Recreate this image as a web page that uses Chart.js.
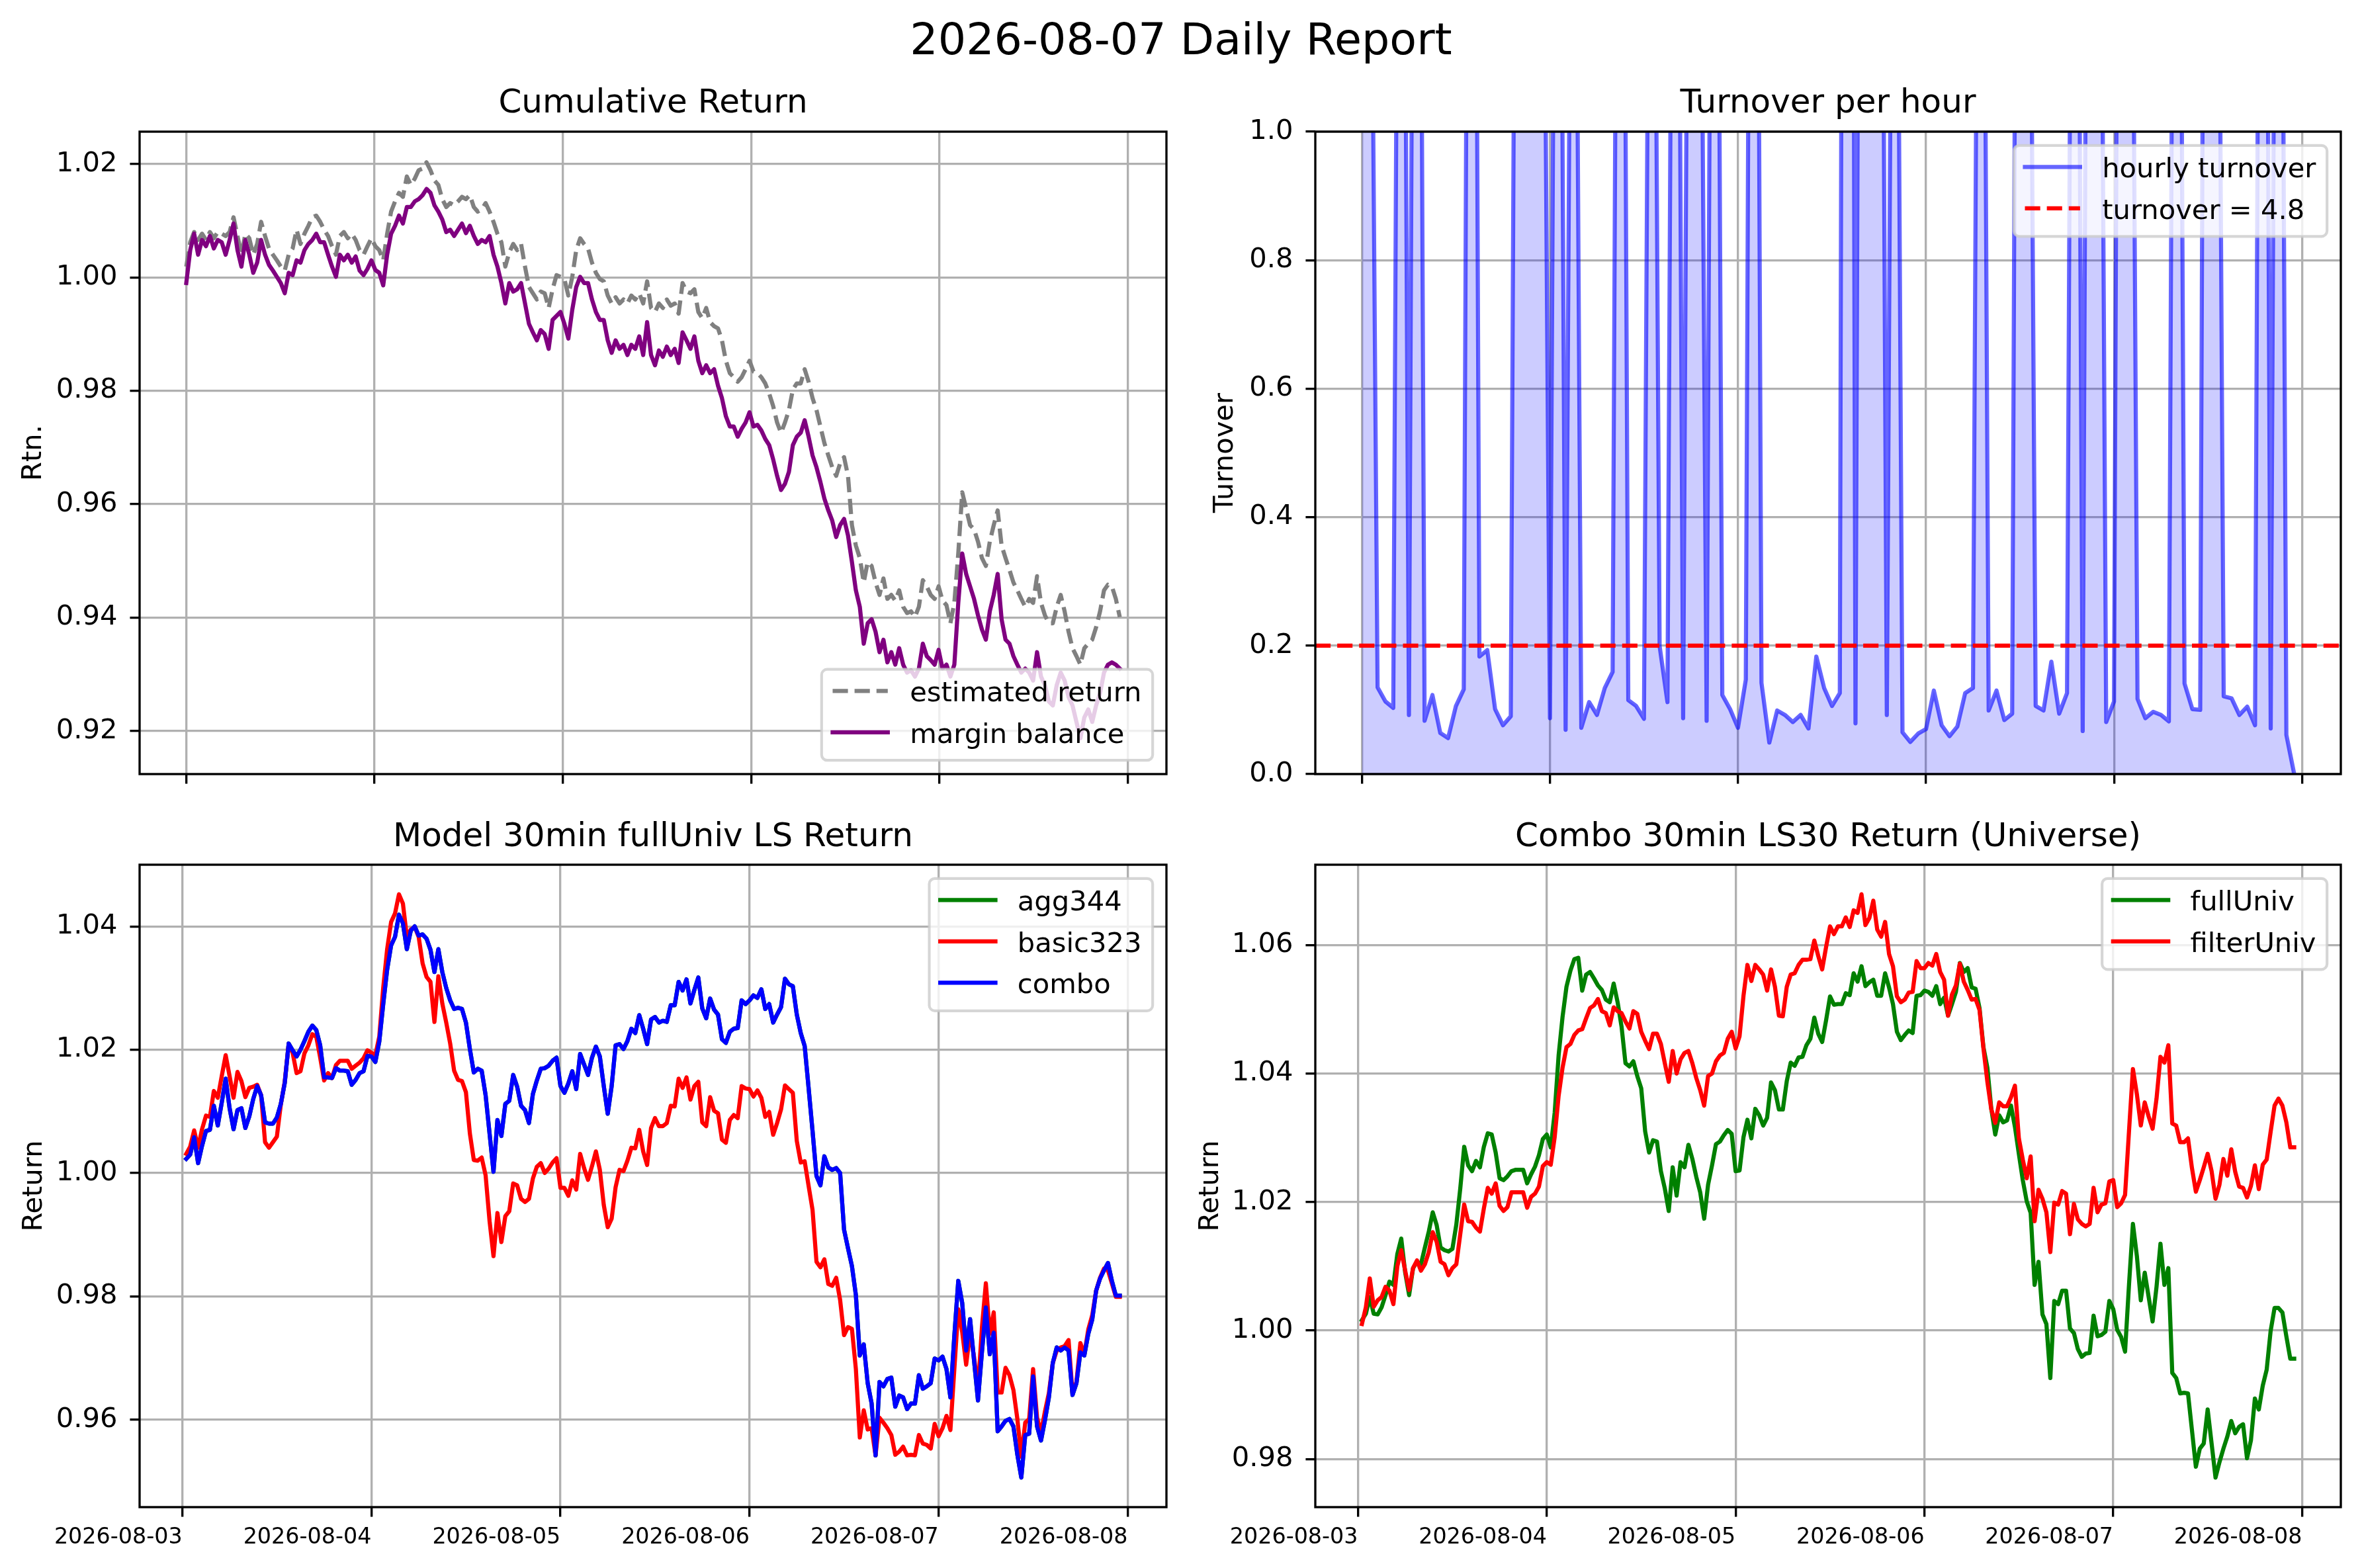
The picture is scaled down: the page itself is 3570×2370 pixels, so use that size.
<!DOCTYPE html>
<html>
<head>
<meta charset="utf-8">
<script src="https://cdn.jsdelivr.net/npm/chart.js@4.4.0/dist/chart.umd.min.js"></script>
<style>
html,body{margin:0;padding:0;background:#fff;}
body{width:3570px;height:2370px;position:relative;overflow:hidden;}
canvas{position:absolute;}
#suptitle{position:absolute;left:0;top:26px;width:3570px;text-align:center;font-family:"DejaVu Sans";font-size:66.67px;line-height:1;color:#000;white-space:nowrap;}
</style>
</head>
<body>
<div id="suptitle">2026-08-07 Daily Report</div>
<canvas id="cTL" width="1785" height="1130" style="left:0px;top:100px;width:1785px;height:1130px"></canvas>
<canvas id="cTR" width="1785" height="1130" style="left:1785px;top:100px;width:1785px;height:1130px"></canvas>
<canvas id="cBL" width="1785" height="1160" style="left:0px;top:1210px;width:1785px;height:1160px"></canvas>
<canvas id="cBR" width="1785" height="1160" style="left:1785px;top:1210px;width:1785px;height:1160px"></canvas>
<script>
// ---------------- DATA ----------------
const DATE_LABELS = ['2026-08-03','2026-08-04','2026-08-05','2026-08-06','2026-08-07','2026-08-08'];
const DAY_TICKS = [0, 1, 2, 3, 4, 5];           // days after 2026-08-03 00:00

// Cumulative Return (30-min samples, 08-03 00:00 .. 08-07 23:00)
const estimatedReturn = [
1.0019,1.0062,1.0080,1.0066,1.0077,1.0066,1.0080,1.0069,1.0080,1.0077,
1.0073,1.0080,1.0106,1.0073,1.0040,1.0077,1.0069,1.0040,1.0059,1.0098,
1.0073,1.0051,1.0040,1.0030,1.0019,1.0012,1.0040,1.0051,1.0084,1.0059,
1.0077,1.0091,1.0106,1.0109,1.0098,1.0084,1.0073,1.0055,1.0040,1.0073,
1.0080,1.0069,1.0077,1.0066,1.0048,1.0040,1.0055,1.0069,1.0055,1.0048,
1.0030,1.0077,1.0116,1.0134,1.0149,1.0142,1.0178,1.0163,1.0174,1.0189,
1.0192,1.0203,1.0189,1.0171,1.0163,1.0138,1.0124,1.0131,1.0127,1.0134,
1.0142,1.0138,1.0145,1.0124,1.0116,1.0120,1.0131,1.0116,1.0098,1.0077,
1.0062,1.0019,1.0044,1.0059,1.0048,1.0059,1.0019,0.9983,0.9972,0.9961,
0.9975,0.9972,0.9946,0.9979,1.0004,1.0001,0.9997,0.9968,1.0001,1.0048,
1.0069,1.0059,1.0051,1.0026,1.0008,0.9997,0.9993,0.9968,0.9954,0.9965,
0.9954,0.9961,0.9954,0.9968,0.9961,0.9972,0.9954,0.9993,0.9946,0.9939,
0.9954,0.9946,0.9961,0.9950,0.9954,0.9936,0.9990,0.9975,0.9972,0.9979,
0.9939,0.9928,0.9946,0.9921,0.9914,0.9910,0.9889,0.9853,0.9831,0.9824,
0.9816,0.9824,0.9838,0.9853,0.9834,0.9831,0.9824,0.9813,0.9795,0.9773,
0.9744,0.9726,0.9744,0.9766,0.9802,0.9813,0.9813,0.9838,0.9816,0.9787,
0.9766,0.9737,0.9708,0.9686,0.9665,0.9650,0.9672,0.9683,0.9650,0.9563,
0.9527,0.9505,0.9462,0.9498,0.9491,0.9462,0.9440,0.9469,0.9433,0.9440,
0.9430,0.9448,0.9419,0.9408,0.9411,0.9401,0.9419,0.9466,0.9455,0.9440,
0.9433,0.9455,0.9430,0.9422,0.9390,0.9426,0.9513,0.9621,0.9592,0.9563,
0.9556,0.9534,0.9505,0.9491,0.9534,0.9563,0.9589,0.9527,0.9505,0.9484,
0.9462,0.9448,0.9433,0.9419,0.9433,0.9426,0.9473,0.9426,0.9404,0.9390,
0.9390,0.9419,0.9440,0.9411,0.9375,0.9346,0.9332,0.9317,0.9346,0.9354,
0.9361,0.9383,0.9411,0.9448,0.9458,0.9455,0.9433,0.9401];
const marginBalance = [
0.9990,1.0048,1.0077,1.0040,1.0066,1.0055,1.0073,1.0051,1.0066,1.0062,
1.0040,1.0066,1.0095,1.0048,1.0019,1.0066,1.0040,1.0008,1.0026,1.0066,
1.0040,1.0022,1.0012,1.0001,0.9990,0.9972,1.0008,1.0004,1.0030,1.0026,
1.0048,1.0059,1.0066,1.0077,1.0062,1.0062,1.0040,1.0019,1.0001,1.0040,
1.0030,1.0040,1.0026,1.0037,1.0012,1.0004,1.0015,1.0030,1.0013,1.0008,
0.9986,1.0040,1.0077,1.0091,1.0109,1.0095,1.0124,1.0124,1.0134,1.0138,
1.0145,1.0156,1.0149,1.0127,1.0116,1.0102,1.0080,1.0084,1.0073,1.0084,
1.0095,1.0078,1.0091,1.0073,1.0059,1.0066,1.0062,1.0073,1.0040,1.0019,
0.9990,0.9954,0.9990,0.9975,0.9979,0.9990,0.9954,0.9918,0.9903,0.9889,
0.9907,0.9900,0.9874,0.9925,0.9932,0.9939,0.9918,0.9892,0.9943,0.9983,
1.0001,0.9990,0.9990,0.9961,0.9939,0.9925,0.9925,0.9889,0.9867,0.9889,
0.9874,0.9881,0.9863,0.9881,0.9874,0.9896,0.9863,0.9921,0.9863,0.9845,
0.9871,0.9860,0.9878,0.9863,0.9874,0.9849,0.9903,0.9889,0.9874,0.9896,
0.9853,0.9831,0.9845,0.9831,0.9838,0.9809,0.9787,0.9755,0.9737,0.9737,
0.9719,0.9733,0.9744,0.9762,0.9737,0.9740,0.9730,0.9715,0.9704,0.9679,
0.9650,0.9625,0.9636,0.9657,0.9704,0.9719,0.9726,0.9748,0.9719,0.9686,
0.9665,0.9639,0.9610,0.9589,0.9571,0.9542,0.9563,0.9574,0.9545,0.9498,
0.9448,0.9419,0.9354,0.9390,0.9397,0.9375,0.9339,0.9361,0.9321,0.9339,
0.9317,0.9346,0.9317,0.9303,0.9307,0.9296,0.9310,0.9354,0.9332,0.9325,
0.9317,0.9343,0.9310,0.9317,0.9296,0.9317,0.9426,0.9513,0.9477,0.9455,
0.9433,0.9404,0.9379,0.9361,0.9411,0.9440,0.9477,0.9397,0.9361,0.9354,
0.9332,0.9317,0.9303,0.9310,0.9303,0.9289,0.9339,0.9296,0.9281,0.9252,
0.9245,0.9281,0.9303,0.9289,0.9260,0.9245,0.9216,0.9187,0.9224,0.9238,
0.9216,0.9245,0.9267,0.9303,0.9317,0.9321,0.9317,0.9310];

// Turnover per hour (08-03 00:00 .. 08-07 23:00)
const hourlyTurnover = [
2.2,1.7,0.135,0.113,0.103,2.5,0.092,2.8,0.083,0.123,
0.064,0.056,0.106,0.132,3.0,0.183,0.193,0.101,0.076,0.09,
2.6,1.9,2.3,1.8,0.087,2.4,0.069,2.1,0.072,0.112,
0.092,0.134,0.159,2.7,0.115,0.106,0.086,2.2,0.199,0.112,
2.5,0.087,2.3,1.9,0.083,2.6,0.123,0.101,0.072,0.147,
3.0,0.142,0.049,0.099,0.092,0.081,0.092,0.071,0.183,0.134,
0.106,0.126,5.0,0.079,3.5,4.0,2.5,0.092,2.2,0.065,
0.05,0.063,0.07,0.13,0.076,0.059,0.074,0.126,0.134,2.4,
0.099,0.13,0.084,0.094,3.0,2.0,0.106,0.099,0.175,0.094,
0.126,2.6,0.067,2.8,2.2,0.081,0.113,3.0,2.1,0.117,
0.087,0.097,0.092,0.082,2.7,0.141,0.101,0.1,3.2,2.2,
0.121,0.118,0.092,0.105,0.076,2.9,0.071,2.6,0.061,0.0];
const TURNOVER_THRESHOLD = 0.2;       // per hour
const TURNOVER_DAILY = 4.8;

// Model 30min fullUniv LS Return (30-min bars 08-03 00:30 .. 08-07 23:00)
const combo = [
1.0023,1.0030,1.0058,1.0016,1.0044,1.0068,1.0070,1.0109,1.0077,1.0114,
1.0153,1.0105,1.0071,1.0102,1.0105,1.0073,1.0092,1.0120,1.0141,1.0126,
1.0082,1.0080,1.0080,1.0090,1.0112,1.0146,1.0210,1.0199,1.0189,1.0200,
1.0214,1.0229,1.0239,1.0232,1.0207,1.0155,1.0155,1.0154,1.0170,1.0166,
1.0166,1.0165,1.0143,1.0151,1.0162,1.0165,1.0190,1.0189,1.0180,1.0213,
1.0274,1.0330,1.0369,1.0383,1.0419,1.0405,1.0363,1.0393,1.0400,1.0385,
1.0387,1.0380,1.0362,1.0326,1.0363,1.0326,1.0300,1.0280,1.0266,1.0268,
1.0266,1.0244,1.0201,1.0163,1.0169,1.0166,1.0126,1.0064,1.0002,1.0086,
1.0060,1.0112,1.0117,1.0159,1.0140,1.0109,1.0102,1.0081,1.0128,1.0150,
1.0169,1.0170,1.0174,1.0182,1.0187,1.0141,1.0130,1.0145,1.0165,1.0136,
1.0193,1.0176,1.0159,1.0187,1.0205,1.0189,1.0141,1.0096,1.0141,1.0207,
1.0209,1.0201,1.0214,1.0234,1.0227,1.0256,1.0234,1.0209,1.0249,1.0253,
1.0244,1.0247,1.0245,1.0272,1.0272,1.0310,1.0296,1.0314,1.0275,1.0297,
1.0317,1.0267,1.0251,1.0283,1.0265,1.0257,1.0217,1.0211,1.0229,1.0234,
1.0235,1.0280,1.0274,1.0280,1.0288,1.0284,1.0298,1.0266,1.0274,1.0244,
1.0257,1.0269,1.0315,1.0306,1.0303,1.0257,1.0227,1.0206,1.0138,1.0068,
0.9995,0.9980,1.0027,1.0009,1.0005,1.0008,1.0000,0.9908,0.9878,0.9849,
0.9802,0.9704,0.9722,0.9659,0.9626,0.9542,0.9661,0.9654,0.9666,0.9668,
0.9621,0.9639,0.9636,0.9617,0.9626,0.9626,0.9672,0.9650,0.9654,0.9659,
0.9699,0.9696,0.9702,0.9682,0.9636,0.9736,0.9825,0.9789,0.9712,0.9763,
0.9696,0.9631,0.9709,0.9782,0.9706,0.9741,0.9581,0.9589,0.9598,0.9601,
0.9589,0.9543,0.9506,0.9575,0.9577,0.9670,0.9589,0.9566,0.9599,0.9636,
0.9692,0.9717,0.9712,0.9717,0.9712,0.9640,0.9659,0.9709,0.9704,0.9739,
0.9762,0.9809,0.9829,0.9842,0.9854,0.9825,0.9801,0.9801];
const basic323 = [
1.0031,1.0043,1.0069,1.0041,1.0071,1.0093,1.0091,1.0133,1.0122,1.0157,
1.0191,1.0157,1.0122,1.0164,1.0149,1.0123,1.0138,1.0140,1.0143,1.0126,
1.0050,1.0041,1.0050,1.0059,1.0111,1.0148,1.0209,1.0195,1.0162,1.0165,
1.0194,1.0207,1.0225,1.0221,1.0187,1.0150,1.0162,1.0154,1.0175,1.0182,
1.0182,1.0182,1.0169,1.0174,1.0179,1.0186,1.0199,1.0195,1.0191,1.0221,
1.0300,1.0363,1.0407,1.0421,1.0452,1.0437,1.0383,1.0395,1.0399,1.0383,
1.0340,1.0318,1.0310,1.0245,1.0319,1.0275,1.0244,1.0210,1.0166,1.0151,
1.0149,1.0131,1.0064,1.0021,1.0020,1.0025,0.9996,0.9922,0.9865,0.9935,
0.9888,0.9930,0.9938,0.9983,0.9980,0.9958,0.9953,0.9958,0.9991,1.0010,
1.0016,1.0000,1.0007,1.0017,1.0024,0.9976,0.9976,0.9963,0.9988,0.9973,
1.0031,1.0008,0.9989,1.0011,1.0035,1.0005,0.9948,0.9912,0.9926,0.9977,
1.0005,1.0003,1.0020,1.0041,1.0040,1.0070,1.0035,1.0013,1.0073,1.0089,
1.0076,1.0076,1.0081,1.0109,1.0108,1.0153,1.0138,1.0155,1.0119,1.0141,
1.0148,1.0082,1.0076,1.0123,1.0101,1.0097,1.0054,1.0049,1.0086,1.0094,
1.0089,1.0141,1.0137,1.0136,1.0124,1.0134,1.0122,1.0091,1.0099,1.0062,
1.0081,1.0103,1.0142,1.0136,1.0130,1.0052,1.0017,1.0019,0.9979,0.9940,
0.9856,0.9847,0.9860,0.9820,0.9817,0.9830,0.9794,0.9737,0.9750,0.9747,
0.9682,0.9571,0.9615,0.9584,0.9586,0.9542,0.9603,0.9595,0.9586,0.9575,
0.9543,0.9548,0.9556,0.9542,0.9543,0.9542,0.9575,0.9561,0.9559,0.9553,
0.9593,0.9573,0.9586,0.9606,0.9583,0.9682,0.9779,0.9742,0.9689,0.9742,
0.9702,0.9649,0.9749,0.9821,0.9739,0.9774,0.9644,0.9644,0.9684,0.9672,
0.9648,0.9601,0.9540,0.9595,0.9601,0.9682,0.9603,0.9579,0.9613,0.9643,
0.9692,0.9712,0.9717,0.9719,0.9729,0.9643,0.9661,0.9724,0.9706,0.9746,
0.9769,0.9809,0.9830,0.9845,0.9842,0.9821,0.9799,0.9799];
const agg344 = [...combo];   // in the reference the green agg344 line lies entirely under combo

// Combo 30min LS30 Return (Universe)
const fullUniv = [
1.0016,1.0026,1.0052,1.0026,1.0025,1.0036,1.0055,1.0076,1.0071,1.0119,
1.0143,1.0090,1.0055,1.0097,1.0107,1.0103,1.0129,1.0154,1.0184,1.0164,
1.0129,1.0125,1.0123,1.0127,1.0165,1.0221,1.0286,1.0257,1.0248,1.0264,
1.0254,1.0286,1.0307,1.0305,1.0277,1.0237,1.0234,1.0240,1.0248,1.0250,
1.0250,1.0250,1.0229,1.0243,1.0255,1.0273,1.0298,1.0305,1.0285,1.0339,
1.0428,1.0488,1.0535,1.0560,1.0578,1.0580,1.0529,1.0554,1.0558,1.0548,
1.0537,1.0530,1.0515,1.0511,1.0540,1.0511,1.0473,1.0416,1.0411,1.0419,
1.0396,1.0377,1.0310,1.0277,1.0296,1.0294,1.0248,1.0221,1.0186,1.0254,
1.0210,1.0262,1.0254,1.0289,1.0267,1.0239,1.0215,1.0174,1.0227,1.0257,
1.0290,1.0294,1.0304,1.0312,1.0306,1.0248,1.0249,1.0301,1.0328,1.0299,
1.0345,1.0335,1.0319,1.0331,1.0386,1.0374,1.0344,1.0344,1.0388,1.0417,
1.0412,1.0425,1.0426,1.0444,1.0454,1.0487,1.0462,1.0449,1.0483,1.0520,
1.0507,1.0508,1.0508,1.0525,1.0522,1.0556,1.0543,1.0567,1.0536,1.0542,
1.0546,1.0521,1.0521,1.0556,1.0534,1.0508,1.0465,1.0452,1.0460,1.0467,
1.0463,1.0521,1.0522,1.0529,1.0527,1.0521,1.0536,1.0508,1.0518,1.0490,
1.0508,1.0527,1.0572,1.0558,1.0564,1.0534,1.0532,1.0502,1.0441,1.0409,
1.0345,1.0305,1.0335,1.0324,1.0327,1.0350,1.0317,1.0275,1.0234,1.0201,
1.0183,1.0071,1.0107,1.0025,1.0010,0.9926,1.0046,1.0041,1.0062,1.0062,
1.0003,0.9996,0.9971,0.9959,0.9964,0.9965,1.0023,0.9991,0.9993,0.9998,
1.0046,1.0033,1.0001,0.9990,0.9967,1.0071,1.0166,1.0116,1.0047,1.0090,
1.0052,1.0014,1.0068,1.0135,1.0071,1.0097,0.9934,0.9926,0.9902,0.9903,
0.9902,0.9845,0.9788,0.9816,0.9824,0.9877,0.9824,0.9771,0.9795,0.9816,
0.9835,0.9859,0.9840,0.9850,0.9854,0.9801,0.9829,0.9894,0.9877,0.9914,
0.9939,0.9999,1.0035,1.0035,1.0028,0.9991,0.9956,0.9956];
const filterUniv = [
1.0010,1.0036,1.0081,1.0037,1.0047,1.0052,1.0068,1.0062,1.0041,1.0100,
1.0125,1.0093,1.0063,1.0097,1.0109,1.0093,1.0103,1.0122,1.0153,1.0138,
1.0107,1.0103,1.0086,1.0097,1.0103,1.0150,1.0196,1.0170,1.0169,1.0160,
1.0154,1.0190,1.0222,1.0213,1.0229,1.0194,1.0186,1.0192,1.0215,1.0215,
1.0215,1.0215,1.0191,1.0208,1.0213,1.0224,1.0256,1.0262,1.0258,1.0301,
1.0365,1.0409,1.0441,1.0446,1.0460,1.0467,1.0469,1.0486,1.0502,1.0506,
1.0516,1.0497,1.0494,1.0475,1.0503,1.0497,1.0494,1.0481,1.0470,1.0497,
1.0493,1.0465,1.0451,1.0438,1.0462,1.0462,1.0446,1.0416,1.0387,1.0435,
1.0400,1.0422,1.0432,1.0435,1.0416,1.0393,1.0374,1.0350,1.0396,1.0400,
1.0419,1.0428,1.0432,1.0454,1.0465,1.0439,1.0458,1.0521,1.0569,1.0544,
1.0569,1.0562,1.0554,1.0529,1.0562,1.0535,1.0490,1.0489,1.0535,1.0554,
1.0556,1.0569,1.0577,1.0577,1.0578,1.0607,1.0583,1.0562,1.0597,1.0629,
1.0617,1.0629,1.0629,1.0643,1.0628,1.0654,1.0650,1.0679,1.0631,1.0642,
1.0669,1.0624,1.0613,1.0636,1.0586,1.0567,1.0520,1.0511,1.0515,1.0526,
1.0527,1.0575,1.0564,1.0564,1.0572,1.0568,1.0586,1.0558,1.0546,1.0490,
1.0523,1.0537,1.0571,1.0543,1.0530,1.0515,1.0516,1.0499,1.0439,1.0387,
1.0344,1.0323,1.0355,1.0349,1.0349,1.0363,1.0381,1.0299,1.0266,1.0237,
1.0271,1.0170,1.0219,1.0205,1.0184,1.0122,1.0199,1.0196,1.0217,1.0213,
1.0150,1.0197,1.0173,1.0166,1.0162,1.0166,1.0222,1.0184,1.0196,1.0198,
1.0232,1.0234,1.0192,1.0198,1.0211,1.0310,1.0407,1.0368,1.0319,1.0355,
1.0333,1.0314,1.0361,1.0426,1.0417,1.0444,1.0322,1.0319,1.0293,1.0293,
1.0299,1.0253,1.0216,1.0234,1.0254,1.0275,1.0248,1.0205,1.0227,1.0267,
1.0241,1.0282,1.0247,1.0224,1.0222,1.0207,1.0225,1.0257,1.0220,1.0258,
1.0266,1.0309,1.0350,1.0361,1.0350,1.0324,1.0285,1.0285];

const Y_TICKS_CUM = [0.92, 0.94, 0.96, 0.98, 1.00, 1.02];
const Y_TICKS_TURN = [0, 0.2, 0.4, 0.6, 0.8, 1.0];
const Y_TICKS_MODEL = [0.96, 0.98, 1.00, 1.02, 1.04];
const Y_TICKS_UNIV = [0.98, 1.00, 1.02, 1.04, 1.06];

// ---------------- time axes (days after 08-03 00:00) ----------------
const END_DAY = 4 + 23 / 24;                               // 08-07 23:00
const cumTimes = estimatedReturn.map((_, k) => k * END_DAY / (estimatedReturn.length - 1));
const hourTimes = hourlyTurnover.map((_, h) => h / 24);
const barTimes = combo.map((_, i) => (i + 1) / 48);        // 30-min bar close times
function autoLim(ts) { const a = ts[0], b = ts[ts.length - 1], m = 0.05 * (b - a); return [a - m, b + m]; }
const X_LIM_TOP = autoLim(cumTimes);
const X_LIM_BOT = autoLim(barTimes);

// ---------------- styling (matplotlib @300dpi) ----------------
const FONT = '"DejaVu Sans"';
const PT = 300 / 72;
const FS = 10 * PT, FS_X = 8 * PT, FS_TITLE = 12 * PT;
const LW = 1.5 * PT, LW_THIN = 0.8 * PT, TICK_LEN = 3.5 * PT;
const DASH = [3.7 * LW, 1.6 * LW];
const GRID_COLOR = '#b0b0b0';
Chart.defaults.color = '#000';
Chart.defaults.font.family = FONT;

function drawLegend(chart, loc) {
  const ctx = chart.ctx, a = chart.chartArea;
  const items = chart.data.datasets;
  ctx.font = FS + 'px ' + FONT;
  const tw = Math.max(...items.map(d => ctx.measureText(d.label).width));
  const bp = 0.4 * FS, ls = 0.5 * FS, hl = 2 * FS, htp = 0.8 * FS, bap = 0.5 * FS, rowH = FS, desc = 0.236 * FS;
  const w = 2 * bp + hl + htp + tw;
  const h = 2 * bp + items.length * rowH + (items.length - 1) * ls;
  const x = a.right - bap - w;
  const y = loc === 'upper right' ? a.top + bap : a.bottom - bap - h;
  const r = 0.2 * FS;
  ctx.beginPath();
  ctx.moveTo(x + r, y); ctx.lineTo(x + w - r, y); ctx.arcTo(x + w, y, x + w, y + r, r);
  ctx.lineTo(x + w, y + h - r); ctx.arcTo(x + w, y + h, x + w - r, y + h, r);
  ctx.lineTo(x + r, y + h); ctx.arcTo(x, y + h, x, y + h - r, r);
  ctx.lineTo(x, y + r); ctx.arcTo(x, y, x + r, y, r); ctx.closePath();
  ctx.fillStyle = 'rgba(255,255,255,0.8)'; ctx.fill();
  ctx.setLineDash([]); ctx.lineWidth = PT; ctx.strokeStyle = 'rgba(204,204,204,0.8)'; ctx.stroke();
  items.forEach((d, i) => {
    const rt = y + bp + i * (rowH + ls);
    const hy = rt + (rowH - desc) / 2;
    ctx.beginPath();
    ctx.setLineDash(d.borderDash || []);
    ctx.lineCap = d.borderDash ? 'butt' : 'square';
    ctx.lineWidth = d.borderWidth; ctx.strokeStyle = d.borderColor;
    ctx.moveTo(x + bp, hy); ctx.lineTo(x + bp + hl, hy); ctx.stroke();
    ctx.setLineDash([]);
    ctx.fillStyle = '#000'; ctx.textAlign = 'left'; ctx.textBaseline = 'alphabetic';
    ctx.fillText(d.label, x + bp + hl + htp, rt + rowH - desc);
  });
}
Chart.register({
  id: 'mplDecor',
  afterDatasetsDraw(chart, args, opts) {
    const ctx = chart.ctx, a = chart.chartArea;
    ctx.save();
    ctx.setLineDash([]); ctx.lineWidth = LW_THIN; ctx.strokeStyle = '#000';
    ctx.strokeRect(a.left, a.top, a.right - a.left, a.bottom - a.top);
    if (opts && opts.loc) drawLegend(chart, opts.loc);
    ctx.restore();
  }
});

function series(label, xs, ys, color, extra) {
  return Object.assign({
    label, data: ys.map((y, i) => ({x: xs[i], y})),
    borderColor: color, backgroundColor: color, borderWidth: LW,
    pointRadius: 0, fill: false, clip: 0, tension: 0,
    borderCapStyle: 'square', borderJoinStyle: 'round'
  }, extra || {});
}

function makePanel(id, p) {
  const grid = () => ({color: GRID_COLOR, lineWidth: LW_THIN, drawTicks: true, tickLength: TICK_LEN, tickColor: '#000', tickWidth: LW_THIN});
  return new Chart(document.getElementById(id), {
    type: 'line',
    data: {datasets: p.datasets},
    options: {
      responsive: false, maintainAspectRatio: false, animation: false, devicePixelRatio: 1, events: [],
      layout: {padding: {left: 0, right: p.padRight, top: 0, bottom: 0}},
      plugins: {
        legend: {display: false}, tooltip: {enabled: false},
        title: {display: true, fullSize: false, text: p.title, color: '#000',
                font: {family: FONT, size: FS_TITLE, weight: 'normal', lineHeight: 1.2},
                padding: {top: p.tPad[0], bottom: p.tPad[1]}},
        mplDecor: {loc: p.legendLoc}
      },
      scales: {
        x: {type: 'linear', bounds: 'data', min: p.xLim[0], max: p.xLim[1],
            afterBuildTicks: s => { s.ticks = DAY_TICKS.map(v => ({value: v})); },
            afterFit: s => { s.height = p.xAxisH; },
            grid: grid(), border: {display: false},
            ticks: {autoSkip: false, maxRotation: 0, minRotation: 0, align: 'end', padding: 11.5,
                    color: '#000', font: {family: FONT, size: FS_X},
                    callback: v => p.showX ? DATE_LABELS[Math.round(v)] : ''}},
        y: {type: 'linear', bounds: 'data', min: p.yLim[0], max: p.yLim[1],
            afterBuildTicks: s => { s.ticks = p.yTicks.map(v => ({value: v})); },
            afterFit: s => { s.width = p.yAxisW; },
            grid: grid(), border: {display: false},
            ticks: {autoSkip: false, padding: 19, color: '#000', font: {family: FONT, size: FS},
                    callback: v => v.toFixed(p.yDec)},
            title: {display: true, text: p.yLabel, color: '#000',
                    font: {family: FONT, size: FS, lineHeight: 1.2}, padding: {top: p.yLabelPad, bottom: 0}}}
      }
    }
  });
}

makePanel('cTL', {
  title: 'Cumulative Return', yLabel: 'Rtn.', yLabelPad: 26,
  yLim: [0.9124, 1.0257], yTicks: Y_TICKS_CUM, yDec: 2,
  xLim: X_LIM_TOP, showX: false, yAxisW: 211, xAxisH: 60, padRight: 22, tPad: [27, 12],
  legendLoc: 'lower right',
  datasets: [
    series('estimated return', cumTimes, estimatedReturn, '#808080', {borderDash: DASH, borderCapStyle: 'butt', order: 1}),
    series('margin balance', cumTimes, marginBalance, '#800080', {order: 0})
  ]
});

makePanel('cTR', {
  title: 'Turnover per hour', yLabel: 'Turnover', yLabelPad: 42,
  yLim: [0, 1], yTicks: Y_TICKS_TURN, yDec: 1,
  xLim: X_LIM_TOP, showX: false, yAxisW: 203, xAxisH: 60, padRight: 32, tPad: [27, 12],
  legendLoc: 'upper right',
  datasets: [
    series('hourly turnover', hourTimes, hourlyTurnover, 'rgba(0,0,255,0.6)',
           {fill: 'origin', backgroundColor: 'rgba(0,0,255,0.2)', order: 1}),
    series('turnover = ' + TURNOVER_DAILY, X_LIM_TOP, [TURNOVER_THRESHOLD, TURNOVER_THRESHOLD], '#ff0000',
           {borderDash: DASH, borderCapStyle: 'butt', order: 0})
  ]
});

makePanel('cBL', {
  title: 'Model 30min fullUniv LS Return', yLabel: 'Return', yLabelPad: 27,
  yLim: [0.9458, 1.0500], yTicks: Y_TICKS_MODEL, yDec: 2,
  xLim: X_LIM_BOT, showX: true, yAxisW: 211, xAxisH: 92, padRight: 22, tPad: [26, 11],
  legendLoc: 'upper right',
  datasets: [
    series('agg344', barTimes, agg344, '#008000', {order: 2}),
    series('basic323', barTimes, basic323, '#ff0000', {order: 1}),
    series('combo', barTimes, combo, '#0000ff', {order: 0})
  ]
});

makePanel('cBR', {
  title: 'Combo 30min LS30 Return (Universe)', yLabel: 'Return', yLabelPad: 20.5,
  yLim: [0.9725, 1.0725], yTicks: Y_TICKS_UNIV, yDec: 2,
  xLim: X_LIM_BOT, showX: true, yAxisW: 203, xAxisH: 92, padRight: 32, tPad: [26, 11],
  legendLoc: 'upper right',
  datasets: [
    series('fullUniv', barTimes, fullUniv, '#008000', {order: 1}),
    series('filterUniv', barTimes, filterUniv, '#ff0000', {order: 0})
  ]
});
</script>
</body>
</html>
